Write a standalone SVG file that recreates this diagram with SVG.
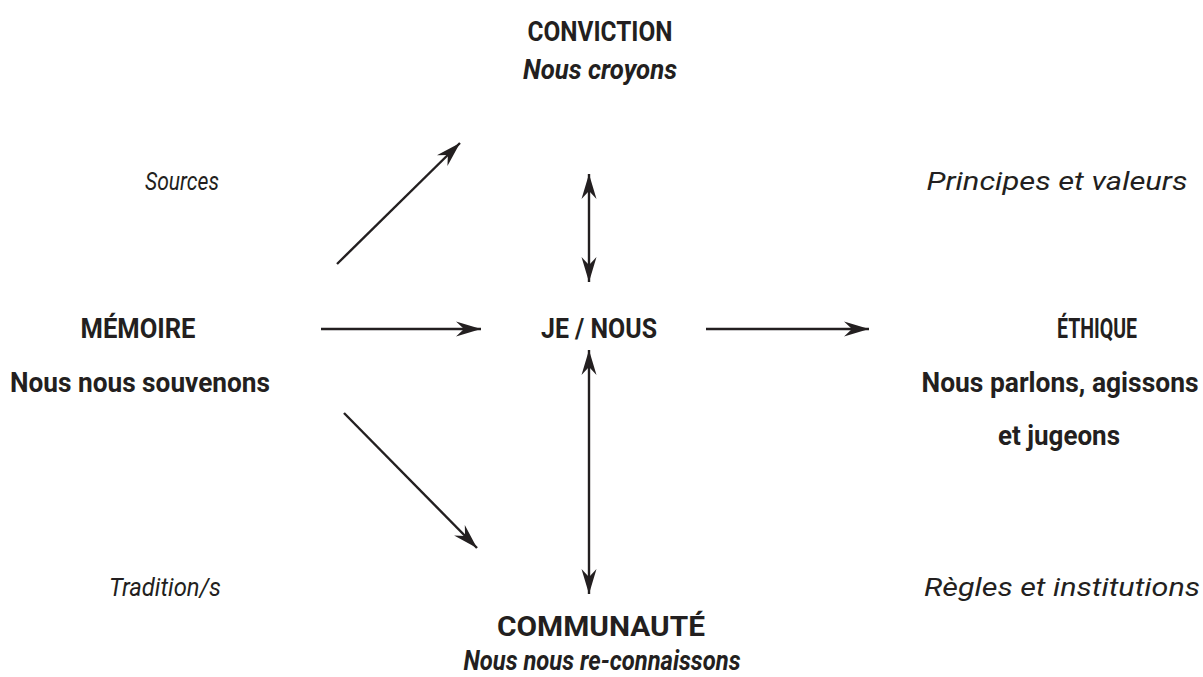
<svg xmlns="http://www.w3.org/2000/svg" width="1203" height="677" viewBox="0 0 1203 677">
<style>
  text { font-family: Roboto, "Liberation Sans", sans-serif; fill: #231f20; text-anchor: middle; }
  .b { font-weight: bold; font-size: 27px; }
  .bi { font-weight: bold; font-style: italic; font-size: 27px; }
  .i { font-style: italic; font-size: 26px; font-weight: normal; }
  .c line { stroke: #231f20; stroke-width: 2.4; fill: none; }
</style>
<defs>
  <marker id="ah" markerUnits="userSpaceOnUse" viewBox="-27 -9 29 18" refX="0" refY="0" markerWidth="29" markerHeight="18" orient="auto-start-reverse">
    <path d="M0,0 L-25,-7.5 L-17,0 L-25,7.5 Z" fill="#231f20"/>
  </marker>
</defs>
<g class="c" id="connectors">
  <line x1="337" y1="264" x2="460" y2="143" marker-end="url(#ah)"/>
  <line x1="589" y1="174" x2="589" y2="282" marker-start="url(#ah)" marker-end="url(#ah)"/>
  <line x1="321" y1="329" x2="481" y2="329" marker-end="url(#ah)"/>
  <line x1="706" y1="329" x2="869" y2="329" marker-end="url(#ah)"/>
  <line x1="589" y1="350" x2="589" y2="594" marker-start="url(#ah)" marker-end="url(#ah)"/>
  <line x1="344" y1="413" x2="477" y2="548" marker-end="url(#ah)"/>
</g>
<g id="conviction">
  <text class="b" x="600" y="41" textLength="145" lengthAdjust="spacingAndGlyphs">CONVICTION</text>
  <text class="bi" x="600" y="79" textLength="154" lengthAdjust="spacingAndGlyphs">Nous croyons</text>
</g>
<g id="sources"><text class="i" x="182" y="190" textLength="74" lengthAdjust="spacingAndGlyphs">Sources</text></g>
<g id="principes"><text class="i" x="1057" y="190" textLength="261" lengthAdjust="spacingAndGlyphs">Principes et valeurs</text></g>
<g id="memoire">
  <text class="b" x="138" y="338" textLength="115" lengthAdjust="spacingAndGlyphs">MÉMOIRE</text>
  <text class="b" x="140" y="392" textLength="260" lengthAdjust="spacingAndGlyphs">Nous nous souvenons</text>
</g>
<g id="jenous"><text class="b" x="599" y="338" textLength="116" lengthAdjust="spacingAndGlyphs">JE / NOUS</text></g>
<g id="ethique">
  <text class="b" x="1097" y="338" textLength="80" lengthAdjust="spacingAndGlyphs">ÉTHIQUE</text>
  <text class="b" x="1060" y="392" textLength="277" lengthAdjust="spacingAndGlyphs">Nous parlons, agissons</text>
  <text class="b" x="1059" y="445" textLength="122" lengthAdjust="spacingAndGlyphs">et jugeons</text>
</g>
<g id="tradition"><text class="i" x="165" y="596" textLength="112" lengthAdjust="spacingAndGlyphs">Tradition/s</text></g>
<g id="regles"><text class="i" x="1062" y="596" textLength="276" lengthAdjust="spacingAndGlyphs">Règles et institutions</text></g>
<g id="communaute">
  <text class="b" x="601" y="636" textLength="208" lengthAdjust="spacingAndGlyphs">COMMUNAUTÉ</text>
  <text class="bi" x="602" y="670" textLength="277" lengthAdjust="spacingAndGlyphs">Nous nous re-connaissons</text>
</g>
</svg>
